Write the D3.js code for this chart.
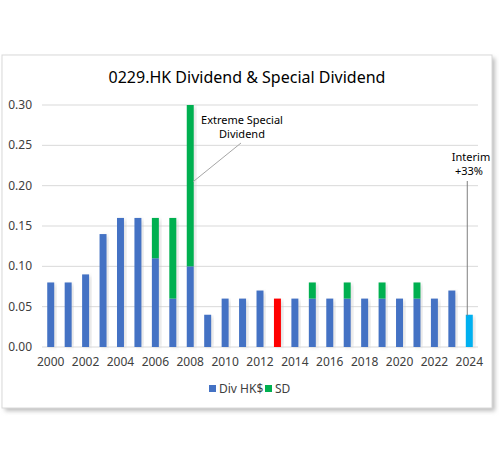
<!DOCTYPE html>
<html><head><meta charset="utf-8">
<script src="https://cdn.jsdelivr.net/npm/d3@7"></script>
<style>body{margin:0;background:#fff;}svg{display:block;font-family:"Noto Sans","Open Sans",sans-serif;}</style>
</head><body>
<script>
const years = [2000,2001,2002,2003,2004,2005,2006,2007,2008,2009,2010,2011,2012,2013,2014,2015,2016,2017,2018,2019,2020,2021,2022,2023,2024];
const divHK = [0.08,0.08,0.09,0.14,0.16,0.16,0.11,0.06,0.10,0.04,0.06,0.06,0.07,0.06,0.06,0.06,0.06,0.06,0.06,0.06,0.06,0.06,0.06,0.07,0.04];
const specialDiv = [0,0,0,0,0,0,0.05,0.10,0.20,0,0,0,0,0,0,0.02,0,0.02,0,0.02,0,0.02,0,0,0];
const divColors = {2013:"#FF0000", 2024:"#00B0F0"};
const yTicks = [0,0.05,0.10,0.15,0.20,0.25,0.30];
const xTickYears = years.filter(y => y % 2 === 0);
const seriesNames = ["Div HK$","SD"];
const seriesColors = ["#4472C4","#00B050"];

const W=499,H=470;
const svg=d3.select("body").append("svg").attr("width",W).attr("height",H);
const defs=svg.append("defs");
const f=defs.append("filter").attr("id","sh").attr("x","-5%").attr("y","-5%").attr("width","110%").attr("height","110%");
f.append("feGaussianBlur").attr("stdDeviation",2);

// card
svg.append("rect").attr("x",5).attr("y",58).attr("width",490).attr("height",353).attr("fill","#bdbdbd").attr("filter","url(#sh)");
svg.append("rect").attr("x",2).attr("y",55).attr("width",490).attr("height",353).attr("fill","#fff").attr("stroke","#d9d9d9");

svg.append("text").attr("x",247).attr("y",83).attr("text-anchor","middle").attr("font-size",16).attr("fill","#000").text("0229.HK Dividend & Special Dividend");

const x=d3.scaleBand().domain(years).range([42,478]).paddingInner(0.6).paddingOuter(0.3);
const y=d3.scaleLinear().domain([0,0.30]).range([347,105]);

const g=svg.append("g");
g.selectAll("line.grid").data(yTicks).join("line").attr("x1",42).attr("x2",478)
 .attr("y1",d=>y(d)).attr("y2",d=>y(d)).attr("stroke","#d9d9d9").attr("stroke-width",1);
g.selectAll("text.yl").data(yTicks).join("text").attr("x",32).attr("y",d=>y(d)+4).attr("text-anchor","end")
 .attr("font-size",12).attr("fill","#404040").text(d=>d3.format(".2f")(d));

const xAxis=svg.append("g").attr("transform","translate(0,347)").call(d3.axisBottom(x).tickValues(xTickYears).tickSize(0).tickPadding(10));
xAxis.select(".domain").remove();
xAxis.selectAll("text").attr("font-size",12).attr("fill","#404040").attr("font-family","Noto Sans");

const bw=x.bandwidth();
const data=years.map((yr,i)=>({yr,d:divHK[i],s:specialDiv[i]}));
// shadows
g.selectAll("rect.shd").data(data).join("rect").attr("x",d=>x(d.yr)+2).attr("y",d=>y(d.d+d.s)+2)
 .attr("width",bw).attr("height",d=>y(0)-y(d.d+d.s)-2).attr("fill","#c8c8c8").attr("opacity",0.6).attr("filter","url(#sh)");
g.selectAll("rect.div").data(data).join("rect").attr("x",d=>x(d.yr)).attr("y",d=>y(d.d))
 .attr("width",bw).attr("height",d=>y(0)-y(d.d)).attr("fill",d=>divColors[d.yr]||seriesColors[0]);
g.selectAll("rect.sd").data(data.filter(d=>d.s>0)).join("rect").attr("x",d=>x(d.yr)).attr("y",d=>y(d.d+d.s))
 .attr("width",bw).attr("height",d=>y(d.d)-y(d.d+d.s)).attr("fill",seriesColors[1]);

// annotations
const cx2008=x(2008)+bw/2;
svg.append("line").attr("x1",cx2008+3).attr("y1",y(0.205)).attr("x2",241).attr("y2",143).attr("stroke","#a6a6a6");
const a1=svg.append("text").attr("text-anchor","middle").attr("font-size",11).attr("fill","#000");
a1.append("tspan").attr("x",242).attr("y",124).text("Extreme Special");
a1.append("tspan").attr("x",242).attr("y",138).text("Dividend");
const cx2024=x(2024)+bw/2;
svg.append("line").attr("x1",cx2024-2).attr("y1",181).attr("x2",cx2024-2).attr("y2",y(0.04)+1).attr("stroke","#7f7f7f");
const a2=svg.append("text").attr("text-anchor","middle").attr("font-size",11).attr("fill","#000");
a2.append("tspan").attr("x",471).attr("y",161).text("Interim");
a2.append("tspan").attr("x",469).attr("y",175).text("+33%");

// legend
const lg=svg.append("g").attr("transform","translate(0,389)");
const lx=[209,265];
seriesNames.forEach((n,i)=>{
  lg.append("rect").attr("x",lx[i]).attr("y",-4).attr("width",7).attr("height",7).attr("fill",seriesColors[i]);
  lg.append("text").attr("x",lx[i]+10).attr("y",4).attr("font-size",12).attr("fill","#404040").text(n);
});
</script>
</body></html>
